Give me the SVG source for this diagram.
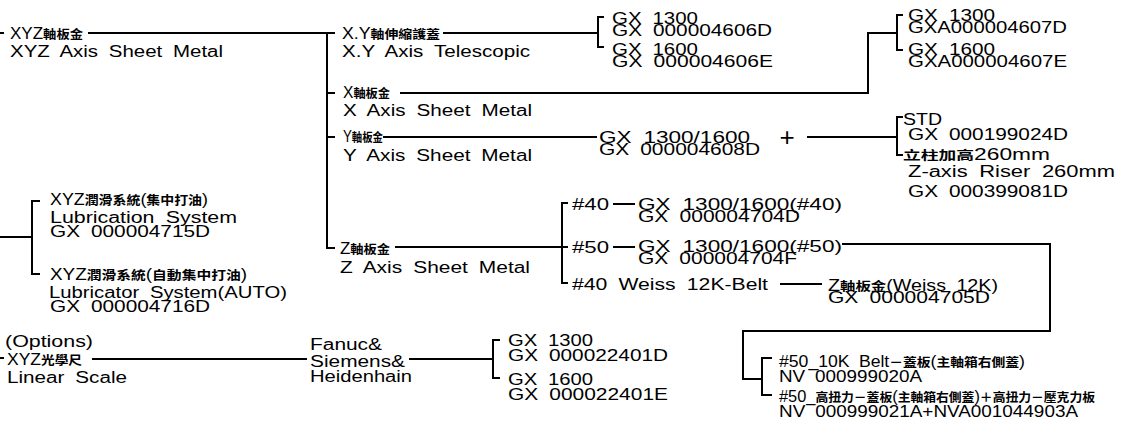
<svg xmlns="http://www.w3.org/2000/svg" width="1135" height="423" viewBox="0 0 1135 423">
<style>
.t{font-family:"Liberation Sans","Noto Sans CJK TC",sans-serif;font-size:16px;fill:#000;word-spacing:4px}
.c{font-family:"Noto Sans CJK TC",sans-serif;font-size:12.5px;font-weight:bold}
.ln{stroke:#000;stroke-width:2;fill:none}
</style>
<rect width="1135" height="423" fill="#fff"/>
<g id="connectors" class="ln">
<path d="M0,33 H4 M88,33 H335 M327,33 V248 H335 M327,93 H335 M327,137 H335"/>
<path d="M443,33 H598 M604,17 H598 V47 H604"/>
<path d="M400,93 H868 V33 H897 M903,15 H897 V50 H903"/>
<path d="M383,137 H597"/>
<path d="M807,137 H897 M903,117 H897 V155 H903"/>
<path d="M395,247 H562 M568,203 H562 V283 H568 M562,247 H568"/>
<path d="M613,204 H635 M613,247 H635 M780,284 H822"/>
<path d="M842,244 H1050 V331 H743 V379 H762 M772,358 H762 V395 H772"/>
<path d="M0,237 H32 M40,201 H32 V274 H40"/>
<path d="M0,358 H4 M92,359 H307 M409,359 H493 M500,340 H493 V378 H500"/>
</g>
<g id="n-xyz-sheet" class="t">
<text x="10" y="39" textLength="73" lengthAdjust="spacingAndGlyphs">XYZ<tspan class="c">軸板金</tspan></text>
<text x="10" y="57" textLength="213" lengthAdjust="spacingAndGlyphs">XYZ Axis Sheet Metal</text>
</g>
<g id="n-xy-telescopic" class="t">
<text x="342" y="39" textLength="98" lengthAdjust="spacingAndGlyphs">X.Y<tspan class="c">軸伸縮護蓋</tspan></text>
<text x="342" y="57" textLength="188" lengthAdjust="spacingAndGlyphs">X.Y Axis Telescopic</text>
</g>
<g id="n-xy-parts" class="t">
<text x="612" y="24" textLength="86" lengthAdjust="spacingAndGlyphs">GX 1300</text>
<text x="612" y="36" textLength="160" lengthAdjust="spacingAndGlyphs">GX 000004606D</text>
<text x="612" y="55" textLength="86" lengthAdjust="spacingAndGlyphs">GX 1600</text>
<text x="612" y="67" textLength="161" lengthAdjust="spacingAndGlyphs">GX 000004606E</text>
</g>
<g id="n-x-sheet" class="t">
<text x="343" y="98" textLength="47" lengthAdjust="spacingAndGlyphs">X<tspan class="c">軸板金</tspan></text>
<text x="343" y="116" textLength="189" lengthAdjust="spacingAndGlyphs">X Axis Sheet Metal</text>
</g>
<g id="n-x-parts" class="t">
<text x="908" y="21" textLength="87" lengthAdjust="spacingAndGlyphs">GX 1300</text>
<text x="908" y="33" textLength="159" lengthAdjust="spacingAndGlyphs">GXA000004607D</text>
<text x="908" y="55" textLength="87" lengthAdjust="spacingAndGlyphs">GX 1600</text>
<text x="908" y="67" textLength="159" lengthAdjust="spacingAndGlyphs">GXA000004607E</text>
</g>
<g id="n-y-sheet" class="t">
<text x="343" y="142" textLength="40" lengthAdjust="spacingAndGlyphs">Y<tspan class="c">軸板金</tspan></text>
<text x="343" y="161" textLength="189" lengthAdjust="spacingAndGlyphs">Y Axis Sheet Metal</text>
</g>
<g id="n-y-parts" class="t">
<text x="599" y="143" textLength="151" lengthAdjust="spacingAndGlyphs">GX 1300/1600</text>
<text x="599" y="155" textLength="161" lengthAdjust="spacingAndGlyphs">GX 000004608D</text>
</g>
<g id="n-plus" class="t">
<text x="787" y="146" text-anchor="middle" style="font-size:26px">+</text>
</g>
<g id="n-riser" class="t">
<text x="903" y="125" textLength="39" lengthAdjust="spacingAndGlyphs">STD</text>
<text x="908" y="140" textLength="160" lengthAdjust="spacingAndGlyphs">GX 000199024D</text>
<text x="903" y="160" textLength="147" lengthAdjust="spacingAndGlyphs"><tspan class="c">立柱加高</tspan>260mm</text>
<text x="908" y="177" textLength="207" lengthAdjust="spacingAndGlyphs">Z-axis Riser 260mm</text>
<text x="908" y="197" textLength="160" lengthAdjust="spacingAndGlyphs">GX 000399081D</text>
</g>
<g id="n-z-sheet" class="t">
<text x="340" y="254" textLength="50" lengthAdjust="spacingAndGlyphs">Z<tspan class="c">軸板金</tspan></text>
<text x="340" y="273" textLength="190" lengthAdjust="spacingAndGlyphs">Z Axis Sheet Metal</text>
</g>
<g id="n-z40" class="t">
<text x="572" y="210" textLength="37" lengthAdjust="spacingAndGlyphs">#40</text>
</g>
<g id="n-z40-parts" class="t">
<text x="638" y="210" textLength="204" lengthAdjust="spacingAndGlyphs">GX 1300/1600(#40)</text>
<text x="638" y="222" textLength="162" lengthAdjust="spacingAndGlyphs">GX 000004704D</text>
</g>
<g id="n-z50" class="t">
<text x="572" y="253" textLength="37" lengthAdjust="spacingAndGlyphs">#50</text>
</g>
<g id="n-z50-parts" class="t">
<text x="638" y="252" textLength="204" lengthAdjust="spacingAndGlyphs">GX 1300/1600(#50)</text>
<text x="638" y="264" textLength="159" lengthAdjust="spacingAndGlyphs">GX 000004704F</text>
</g>
<g id="n-z40-weiss" class="t">
<text x="572" y="290" textLength="196" lengthAdjust="spacingAndGlyphs">#40 Weiss 12K-Belt</text>
</g>
<g id="n-z-weiss-parts" class="t">
<text x="828" y="291" textLength="170" lengthAdjust="spacingAndGlyphs">Z<tspan class="c">軸板金</tspan>(Weiss 12K)</text>
<text x="828" y="303" textLength="162" lengthAdjust="spacingAndGlyphs">GX 000004705D</text>
</g>
<g id="n-lube" class="t">
<text x="50" y="205" textLength="158" lengthAdjust="spacingAndGlyphs">XYZ<tspan class="c">潤滑系統</tspan>(<tspan class="c">集中打油</tspan>)</text>
<text x="50" y="223" textLength="187" lengthAdjust="spacingAndGlyphs">Lubrication System</text>
<text x="50" y="237" textLength="160" lengthAdjust="spacingAndGlyphs">GX 000004715D</text>
</g>
<g id="n-lube-auto" class="t">
<text x="50" y="280" textLength="197" lengthAdjust="spacingAndGlyphs">XYZ<tspan class="c">潤滑系統</tspan>(<tspan class="c">自動集中打油</tspan>)</text>
<text x="49" y="298" textLength="238" lengthAdjust="spacingAndGlyphs">Lubricator System(AUTO)</text>
<text x="50" y="312" textLength="160" lengthAdjust="spacingAndGlyphs">GX 000004716D</text>
</g>
<g id="n-linear-scale" class="t">
<text x="5" y="347" textLength="88" lengthAdjust="spacingAndGlyphs">(Options)</text>
<text x="7" y="365" textLength="75" lengthAdjust="spacingAndGlyphs">XYZ<tspan class="c">光學尺</tspan></text>
<text x="7" y="383" textLength="120" lengthAdjust="spacingAndGlyphs">Linear Scale</text>
</g>
<g id="n-cnc" class="t">
<text x="310" y="350" textLength="72" lengthAdjust="spacingAndGlyphs">Fanuc&amp;</text>
<text x="310" y="367" textLength="95" lengthAdjust="spacingAndGlyphs">Siemens&amp;</text>
<text x="310" y="382" textLength="102" lengthAdjust="spacingAndGlyphs">Heidenhain</text>
</g>
<g id="n-scale-parts" class="t">
<text x="508" y="346" textLength="85" lengthAdjust="spacingAndGlyphs">GX 1300</text>
<text x="508" y="361" textLength="160" lengthAdjust="spacingAndGlyphs">GX 000022401D</text>
<text x="508" y="385" textLength="85" lengthAdjust="spacingAndGlyphs">GX 1600</text>
<text x="508" y="400" textLength="160" lengthAdjust="spacingAndGlyphs">GX 000022401E</text>
</g>
<g id="n-50-covers" class="t">
<text x="779" y="367" textLength="246" lengthAdjust="spacingAndGlyphs">#50_10K Belt<tspan class="c">－蓋板</tspan>(<tspan class="c">主軸箱右側蓋</tspan>)</text>
<text x="779" y="382" textLength="143" lengthAdjust="spacingAndGlyphs">NV 000999020A</text>
<text x="779" y="402" textLength="316" lengthAdjust="spacingAndGlyphs">#50_<tspan class="c">高扭力－蓋板</tspan>(<tspan class="c">主軸箱右側蓋</tspan>)<tspan class="c">＋高扭力－壓克力板</tspan></text>
<text x="779" y="417" textLength="299" lengthAdjust="spacingAndGlyphs">NV 000999021A+NVA001044903A</text>
</g>
</svg>
